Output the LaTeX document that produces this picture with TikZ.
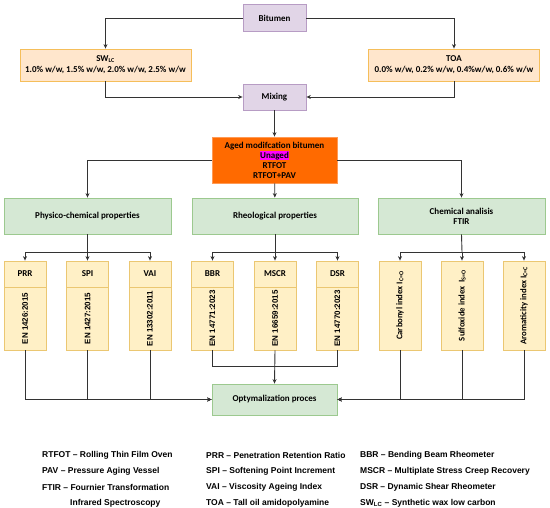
\documentclass[tikz,border=0pt]{standalone}
\usepackage{fontspec}
\setmainfont{Carlito}
\newfontfamily\arialfont{Liberation Sans}
\usetikzlibrary{arrows.meta}
\definecolor{mixfill}{HTML}{E1D5E7}
\definecolor{mixline}{HTML}{B79CC4}
\definecolor{peachfill}{HTML}{FFE6CC}
\definecolor{peachline}{HTML}{F5BE5A}
\definecolor{greenfill}{HTML}{D5E8D4}
\definecolor{greenline}{HTML}{9CC98F}
\definecolor{testfill}{HTML}{FFF0C6}
\definecolor{testline}{HTML}{EBC772}
\definecolor{agedfill}{HTML}{FF6A00}
\definecolor{agedline}{HTML}{FF9A55}
\definecolor{unagedhl}{HTML}{FF00FF}
\definecolor{wire}{HTML}{333333}
\begin{document}
\begin{tikzpicture}[x=1pt,y=-1pt,
    box/.style = {draw, line width=0.8pt, inner sep=0pt, align=center,
        font=\fontsize{9}{10}\selectfont\bfseries},
    mixbox/.style = {box, fill=mixfill, draw=mixline, minimum width=63pt, minimum height=27pt},
    peachbox/.style = {box, fill=peachfill, draw=peachline, minimum width=171pt, minimum height=32pt,
        font=\fontsize{9}{11}\selectfont\bfseries},
    greenbox/.style = {box, fill=greenfill, draw=greenline, minimum width=166pt, minimum height=36pt},
    headbox/.style = {box, fill=testfill, draw=testline, minimum width=42pt, minimum height=26pt},
    bodybox/.style = {box, fill=testfill, draw=testline, minimum width=42pt, minimum height=63pt,
        font=\arialfont\fontsize{8}{9}\selectfont\bfseries},
    chembox/.style = {box, fill=testfill, draw=testline, minimum width=42pt, minimum height=89pt,
        font=\fontsize{8.7}{10}\selectfont\bfseries},
    link/.style = {draw=wire, line width=0.9pt, -{Stealth[length=4.5pt,width=4pt]}},
    wireline/.style = {draw=wire, line width=0.9pt}]
    \useasboundingbox (0,0) rectangle (550,508);
    % preparation of the binder
    \node[mixbox] (bitumen) at (274.5,18) {Bitumen};
    \node[peachbox] (swlc) at (105.5,65) {SW\textsubscript{LC}\\1.0\% w/w, 1.5\% w/w, 2.0\% w/w, 2.5\% w/w};
    \node[peachbox] (toa) at (454,65) {TOA\\0.0\% w/w, 0.2\% w/w, 0.4\%w/w, 0.6\% w/w};
    \node[mixbox, minimum height=26pt] (mixing) at (274.5,97) {Mixing};
    \node[box, fill=agedfill, draw=agedline, minimum width=125pt, minimum height=46pt] (aged) at (274.5,160)
        {Aged modifcation bitumen\\{\setlength{\fboxsep}{0.6pt}\colorbox{unagedhl}{Unaged}}\\RTFOT\\RTFOT+PAV};
    % property groups
    \node[greenbox, minimum width=167pt] (physico) at (87.5,216) {Physico-chemical properties};
    \node[greenbox] (rheo) at (275,216) {Rheological properties};
    \node[greenbox, minimum width=167pt] (chem) at (461.5,216) {Chemical analisis\\FTIR};
    % tests
    \node[headbox] (prrhead) at (25,274) {PRR};
    \node[bodybox] (prr) at (25,318.5) {\rotatebox{90}{EN 1426:2015}};
    \node[headbox] (spihead) at (87.5,274) {SPI};
    \node[bodybox] (spi) at (87.5,318.5) {\rotatebox{90}{EN 1427:2015}};
    \node[headbox] (vaihead) at (150,274) {VAI};
    \node[bodybox] (vai) at (150,318.5) {\rotatebox{90}{EN 13302:2011}};
    \node[headbox] (bbrhead) at (212.5,274) {BBR};
    \node[bodybox] (bbr) at (212.5,318.5) {\rotatebox{90}{EN 14771:2023}};
    \node[headbox] (mscrhead) at (275,274) {MSCR};
    \node[bodybox] (mscr) at (275,318.5) {\rotatebox{90}{EN 16659:2015}};
    \node[headbox] (dsrhead) at (337.5,274) {DSR};
    \node[bodybox] (dsr) at (337.5,318.5) {\rotatebox{90}{EN 14770:2023}};
    \node[chembox] (carbonyl) at (400,305.5) {\rotatebox{90}{Carbonyl index I\textsubscript{C=O}}};
    \node[chembox] (sulfoxide) at (462,305.5) {\rotatebox{90}{Sulfoxide index\, I\textsubscript{S=O}}};
    \node[chembox] (aromatic) at (524,305.5) {\rotatebox{90}{Aromaticity index I\textsubscript{C=C}}};
    \node[greenbox, minimum width=125pt, minimum height=31pt] (opt) at (274.5,399.5) {Optymalization proces};
    % connectors
    \draw[link] (bitumen.west) -| (swlc.north);
    \draw[link] (bitumen.east) -| (toa.north);
    \draw[link] (swlc.south) |- (mixing.west);
    \draw[link] (toa.south) |- (mixing.east);
    \draw[link] (mixing) -- (aged);
    \draw[link] (aged.west) -| (physico.north);
    \draw[link] (aged) -- (rheo);
    \draw[link] (aged.east) -| (chem.north);
    \coordinate (physplit) at (87.5,252);
    \coordinate (rheosplit) at (275,252);
    \coordinate (chemsplit) at (462,252);
    \draw[wireline] (physico.south) -- (physplit);
    \draw[link] (physplit) -| (prrhead.north);
    \draw[link] (physplit) -- (spihead.north);
    \draw[link] (physplit) -| (vaihead.north);
    \draw[wireline] (rheo.south) -- (rheosplit);
    \draw[link] (rheosplit) -| (bbrhead.north);
    \draw[link] (rheosplit) -- (mscrhead.north);
    \draw[link] (rheosplit) -| (dsrhead.north);
    \draw[wireline] (chem.south) -- (chemsplit);
    \draw[link] (chemsplit) -| (carbonyl.north);
    \draw[link] (chemsplit) -- (sulfoxide.north);
    \draw[link] (chemsplit) -| (aromatic.north);
    \draw[link] (prr.south) |- (opt.west);
    \draw[link] (spi.south) |- (opt.west);
    \draw[link] (vai.south) |- (opt.west);
    \draw[wireline] (bbr.south) -- ++(0,16) -| (dsr.south);
    \draw[link] (mscr.south) -- (opt.north);
    \draw[link] (carbonyl.south) |- (opt.east);
    \draw[link] (sulfoxide.south) |- (opt.east);
    \draw[link] (aromatic.south) |- (opt.east);
    % abbreviations
    \begin{scope}[every node/.append style = {anchor = west, inner sep = 0pt,
            font = \arialfont\fontsize{8.5}{9}\selectfont\bfseries}]
        \node (rtfot) at (42,455) {RTFOT – Rolling Thin Film Oven};
        \node (pav) at (42,471) {PAV – Pressure Aging Vessel};
        \node (ftir) at (42,487) {FTIR – Fournier Transformation};
        \node (ftirb) at (70,503) {Infrared Spectroscopy};
        \node (prrkey) at (206,455) {PRR – Penetration Retention Ratio};
        \node (spikey) at (206,471) {SPI – Softening Point Increment};
        \node (vaikey) at (206,487) {VAI – Viscosity Ageing Index};
        \node (toakey) at (206,503) {TOA – Tall oil amidopolyamine};
        \node (bbrkey) at (360,455) {BBR – Bending Beam Rheometer};
        \node (mscrkey) at (360,471) {MSCR – Multiplate Stress Creep Recovery};
        \node (dsrkey) at (360,487) {DSR – Dynamic Shear Rheometer};
        \node (swlckey) at (360,503) {SW\textsubscript{LC} – Synthetic wax low carbon};
    \end{scope}
\end{tikzpicture}
\end{document}
